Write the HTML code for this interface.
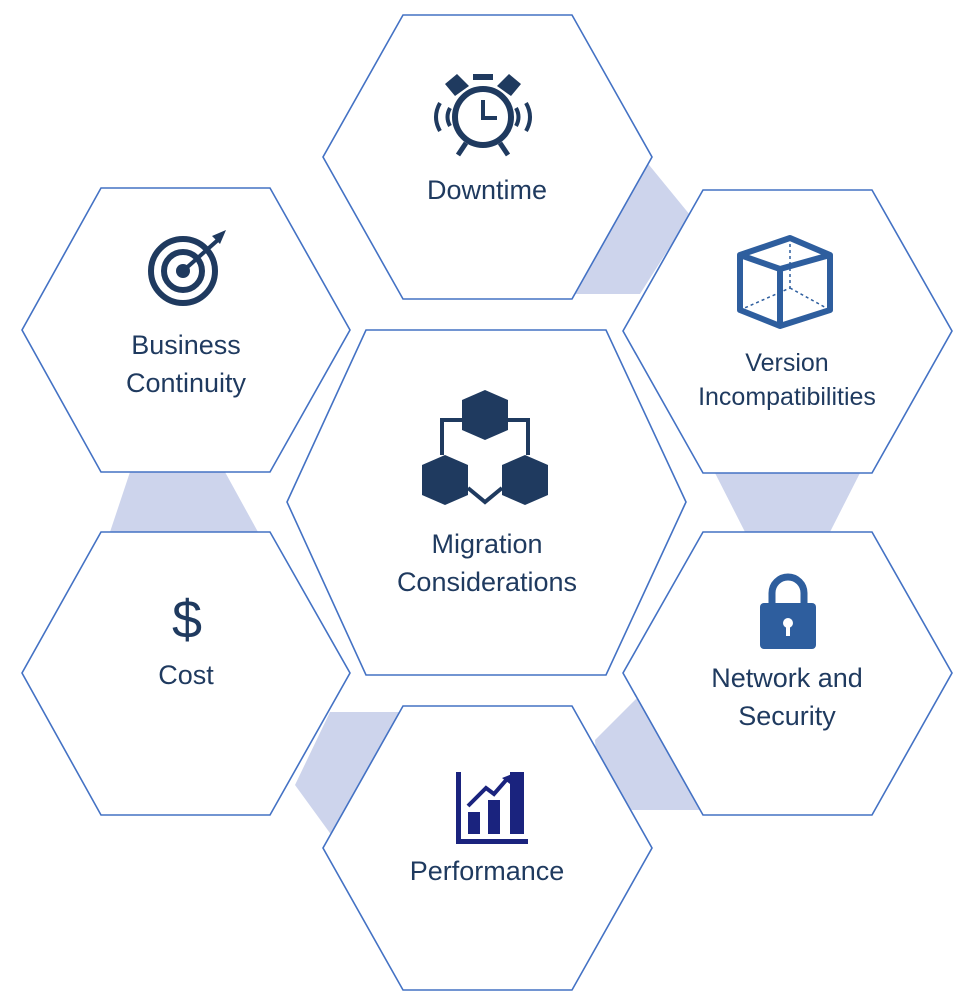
<!DOCTYPE html>
<html><head><meta charset="utf-8"><style>
html,body{margin:0;padding:0;background:#fff;}
svg{display:block}
text{font-family:"Liberation Sans",sans-serif;fill:#1f3a5f;font-size:27px;text-anchor:middle}
</style></head><body>
<svg width="964" height="1002" viewBox="0 0 964 1002">
<g fill="#cdd4ec">
<polygon points="645,160 690,215 640,294 575,294"/>
<polygon points="130,472 225,472 258,532 110,532"/>
<polygon points="715,473 860,473 830,532 745,532"/>
<polygon points="645,690 700,810 600,810 595,740"/>
<polygon points="295,785 330,712 400,712 335,840"/>
</g>
<g fill="#fff" stroke="#4472c4" stroke-width="1.6">
<polygon points="403,15 572,15 652,157 572,299 403,299 323,157"/>
<polygon points="101,188 270,188 350,330 270,472 101,472 22,330"/>
<polygon points="703,190 872,190 952,331 872,473 703,473 623,331"/>
<polygon points="366,330 606,330 686,502 606,675 366,675 287,502"/>
<polygon points="101,532 270,532 350,673 270,815 101,815 22,673"/>
<polygon points="703,532 872,532 952,673 872,815 703,815 623,673"/>
<polygon points="403,706 572,706 652,848 572,990 403,990 323,848"/>
</g>
<text x="487" y="199">Downtime</text>
<text x="186" y="354">Business</text><text x="186" y="392">Continuity</text>
<text x="787" y="371" style="font-size:25px">Version</text><text x="787" y="405" style="font-size:25px">Incompatibilities</text>
<text x="487" y="553">Migration</text><text x="487" y="591">Considerations</text>
<text x="186" y="684">Cost</text>
<text x="787" y="687">Network and</text><text x="787" y="725">Security</text>
<text x="487" y="880">Performance</text>
<g fill="none" stroke="#1f3a5f" stroke-width="6">
<circle cx="483" cy="117" r="28"/>
<path d="M483 100v18h14" stroke-width="4"/>
<path d="M466 143l-8 12M500 143l8 12" stroke-width="5"/>
<path d="M440 103q-8 14 0 28M450 108q-5 9 0 18M526 103q8 14 0 28M516 108q5 9 0 18" stroke-width="4"/>
</g>
<rect x="473" y="74" width="20" height="6" fill="#1f3a5f"/>
<path d="M445 84l12-10 12 12-14 10z M521 84l-12-10-12 12 14 10z" fill="#1f3a5f"/>
<g fill="none" stroke="#1f3a5f" stroke-width="6">
<circle cx="183" cy="271" r="32"/><circle cx="183" cy="271" r="19"/>
</g>
<circle cx="183" cy="271" r="7" fill="#1f3a5f"/>
<path d="M183 271l36-32" stroke="#1f3a5f" stroke-width="4"/>
<path d="M212 236l14-6-6 14z" fill="#1f3a5f"/>
<g fill="none" stroke="#2e5e9e" stroke-width="6" stroke-linejoin="round">
<polygon points="740,255 790,238 830,255 830,310 780,326 740,310"/>
<path d="M740 255l40 14v57M780 269l50-14"/>
</g>
<path d="M790 238v50l-50 22M790 288l40 22" fill="none" stroke="#2e5e9e" stroke-width="1.5" stroke-dasharray="3,3"/>
<g fill="#1f3a5f">
<polygon points="485,390 508,400 508,430 485,440 462,430 462,400"/>
<polygon points="445,455 468,465 468,495 445,505 422,495 422,465"/>
<polygon points="525,455 548,465 548,495 525,505 502,495 502,465"/>
</g>
<g fill="none" stroke="#1f3a5f" stroke-width="4">
<path d="M462 420h-20v35M508 420h20v35M468 488l17 14 17-14"/>
</g>
<text x="187" y="638" style="font-size:54px">$</text>
<path d="M772 605v-12a16 16 0 0 1 32 0v12" fill="none" stroke="#2e5e9e" stroke-width="7"/>
<rect x="760" y="603" width="56" height="46" rx="4" fill="#2e5e9e"/>
<circle cx="788" cy="623" r="5" fill="#fff"/><rect x="786" y="624" width="4" height="12" fill="#fff"/>
<g fill="#1a237e">
<rect x="456" y="772" width="5" height="72"/><rect x="456" y="839" width="72" height="5"/>
<rect x="468" y="812" width="12" height="22"/><rect x="488" y="800" width="12" height="34"/><rect x="510" y="772" width="14" height="62"/>
</g>
<path d="M468 806l18-18 8 6 14-16" fill="none" stroke="#1a237e" stroke-width="4"/>
<path d="M502 778l10-4-2 10z" fill="#1a237e"/>
</svg>
</body></html>
